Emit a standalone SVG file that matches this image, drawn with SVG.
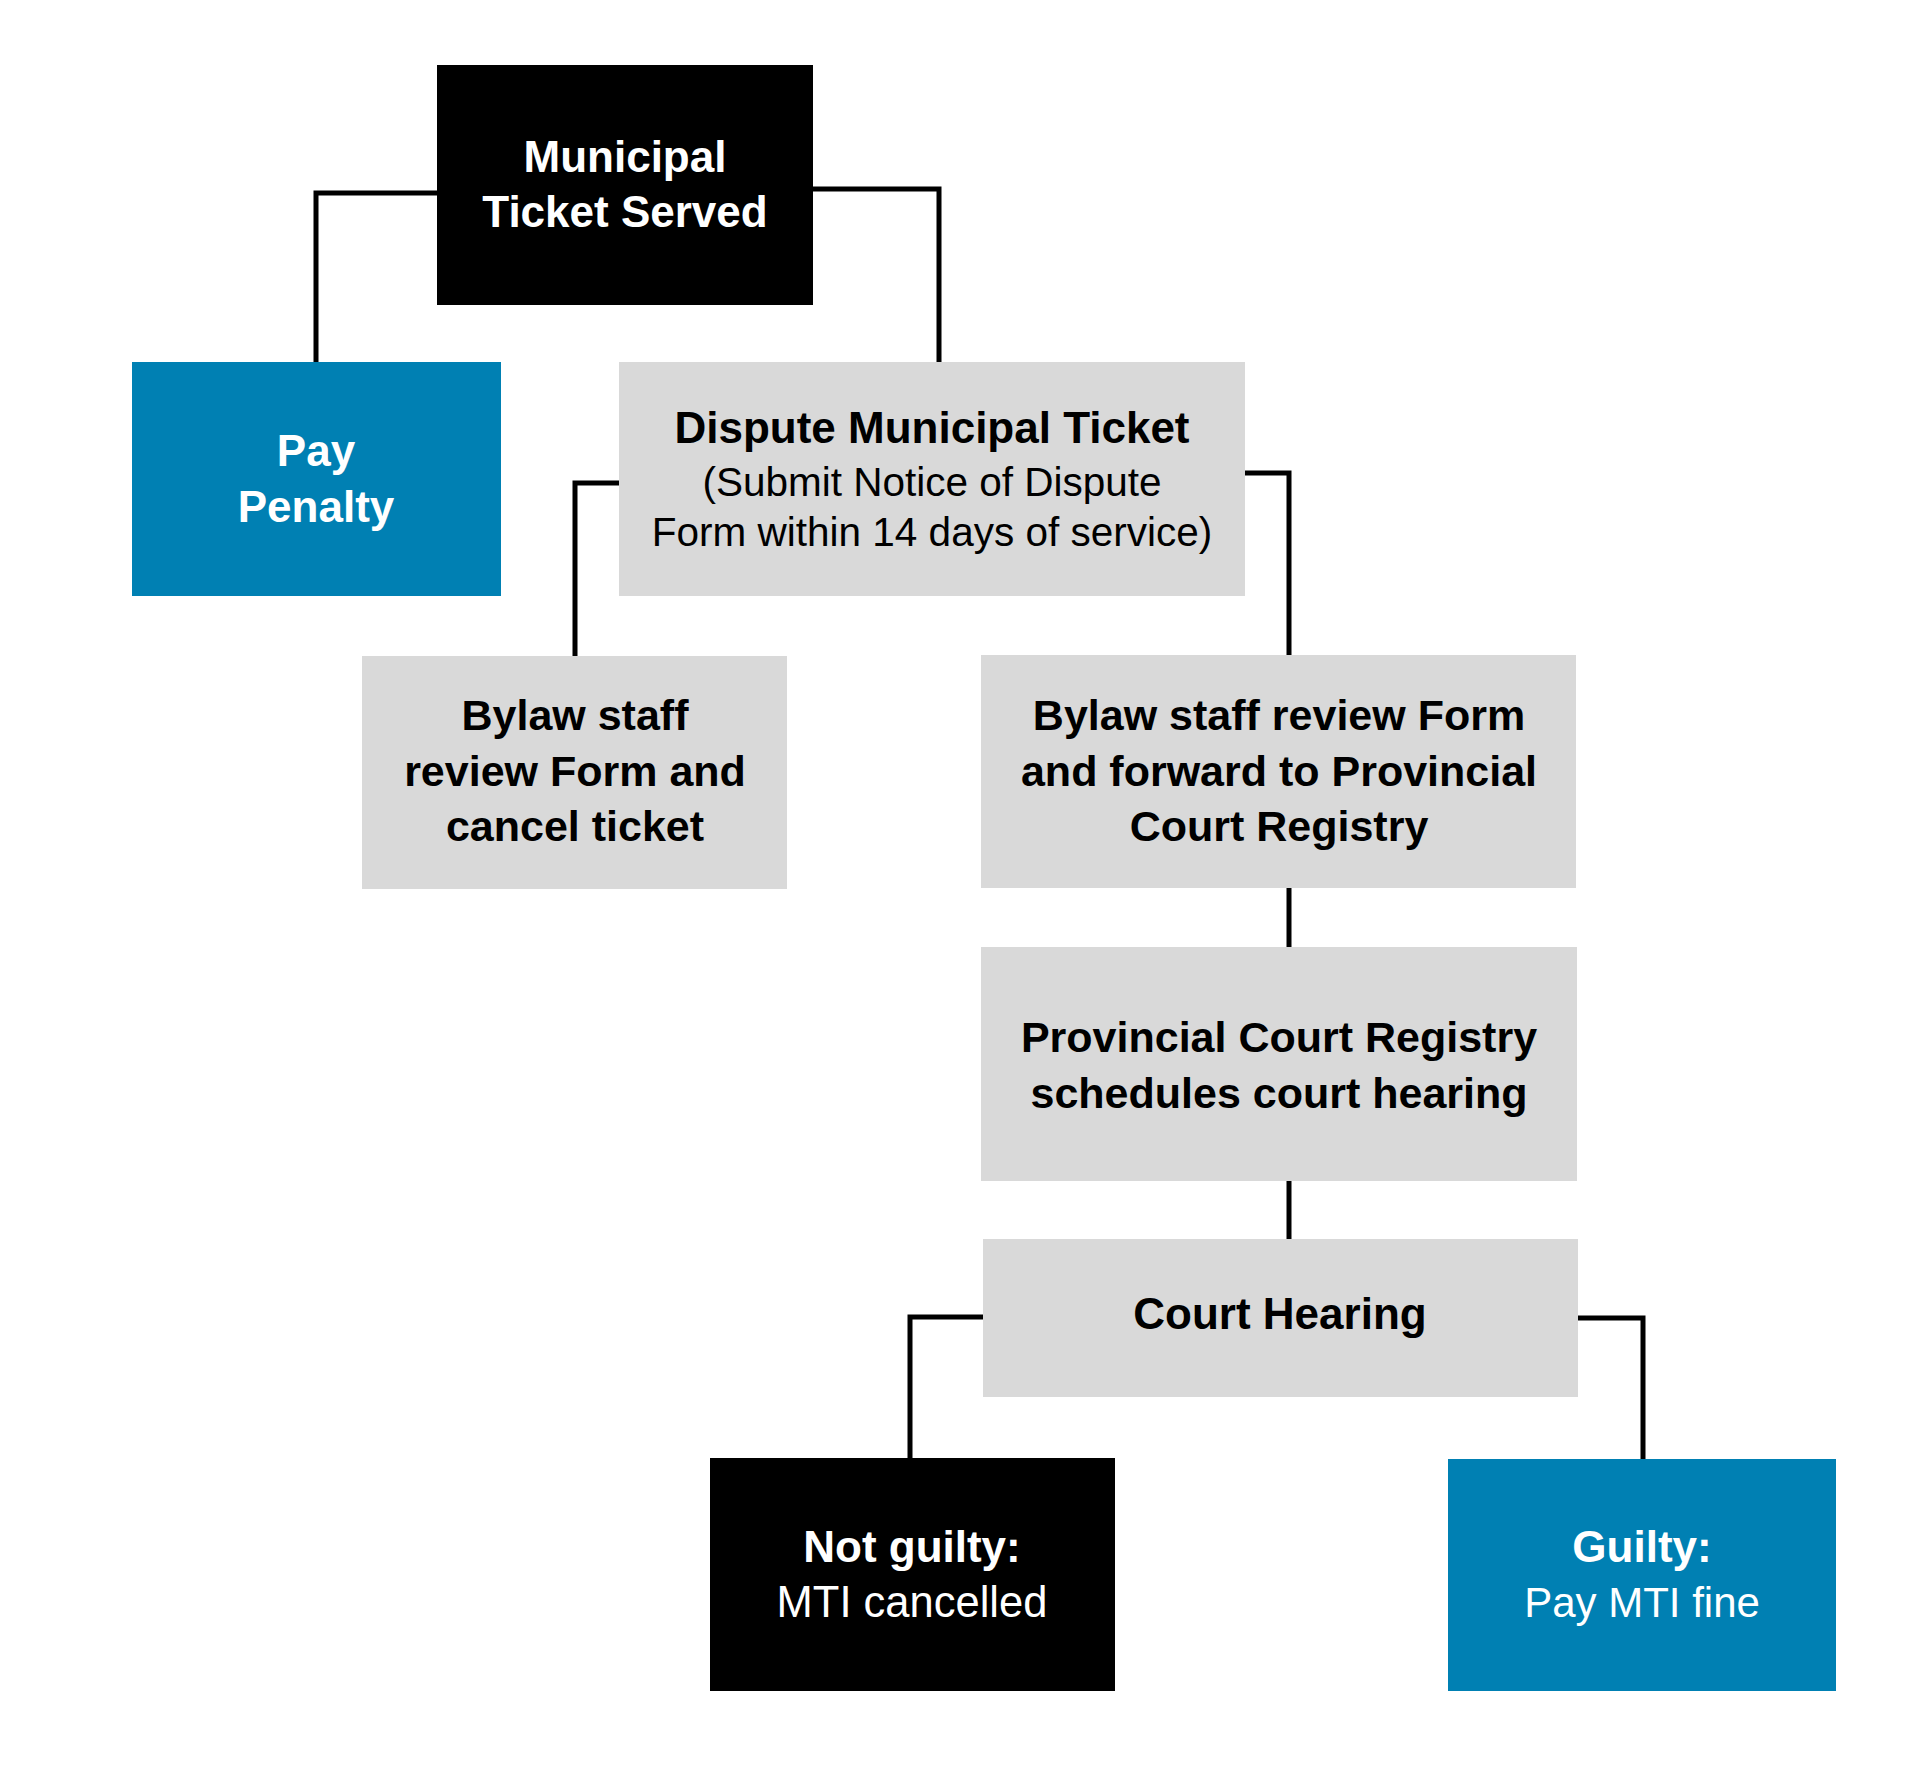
<svg xmlns="http://www.w3.org/2000/svg" width="1920" height="1783" viewBox="0 0 1920 1783">
<style>
.conn{fill:none;stroke:#000;stroke-width:5;stroke-linejoin:miter}
.black{fill:#000}
.blue{fill:#0080B3}
.grey{fill:#D9D9D9}
text{font-family:"Liberation Sans",Arial,sans-serif;text-anchor:middle}
.b{font-weight:bold;font-size:44px}
.b3{font-weight:bold;font-size:43px}
.n{font-size:40.5px}
.n2{font-size:43.5px}
.w{fill:#fff}
.k{fill:#000}
</style>
<rect width="1920" height="1783" fill="#fff"/>
<g id="connectors">
<polyline class="conn" points="437,193 316,193 316,362"/>
<polyline class="conn" points="813,189 939,189 939,362"/>
<polyline class="conn" points="619,483 575,483 575,656"/>
<polyline class="conn" points="1245,473 1289,473 1289,655"/>
<line class="conn" x1="1289" y1="888" x2="1289" y2="947"/>
<line class="conn" x1="1289" y1="1181" x2="1289" y2="1239"/>
<polyline class="conn" points="983,1317 910,1317 910,1458"/>
<polyline class="conn" points="1578,1318 1643,1318 1643,1459"/>
</g>
<g id="municipal-ticket-served">
<rect class="black" x="437" y="65" width="376" height="240"/>
<text class="b w" x="625" y="172">Municipal</text>
<text class="b w" x="625" y="227">Ticket Served</text>
</g>
<g id="pay-penalty">
<rect class="blue" x="132" y="362" width="369" height="234"/>
<text class="b w" x="316" y="466">Pay</text>
<text class="b w" x="316" y="522">Penalty</text>
</g>
<g id="dispute">
<rect class="grey" x="619" y="362" width="626" height="234"/>
<text class="b k" x="932" y="443">Dispute Municipal Ticket</text>
<text class="n k" x="932" y="496">(Submit Notice of Dispute</text>
<text class="n k" x="932" y="546" font-size="40">Form within 14 days of service)</text>
</g>
<g id="bylaw-cancel">
<rect class="grey" x="362" y="656" width="425" height="233"/>
<text class="b3 k" x="575" y="730">Bylaw staff</text>
<text class="b3 k" x="575" y="786">review Form and</text>
<text class="b3 k" x="575" y="841">cancel ticket</text>
</g>
<g id="bylaw-forward">
<rect class="grey" x="981" y="655" width="595" height="233"/>
<text class="b3 k" x="1279" y="730">Bylaw staff review Form</text>
<text class="b3 k" x="1279" y="786">and forward to Provincial</text>
<text class="b3 k" x="1279" y="841">Court Registry</text>
</g>
<g id="registry-schedules">
<rect class="grey" x="981" y="947" width="596" height="234"/>
<text class="b3 k" x="1279" y="1052">Provincial Court Registry</text>
<text class="b3 k" x="1279" y="1108">schedules court hearing</text>
</g>
<g id="court-hearing">
<rect class="grey" x="983" y="1239" width="595" height="158"/>
<text class="b k" x="1280" y="1329">Court Hearing</text>
</g>
<g id="not-guilty">
<rect class="black" x="710" y="1458" width="405" height="233"/>
<text class="b w" x="912" y="1562">Not guilty:</text>
<text class="n2 w" x="912" y="1617">MTI cancelled</text>
</g>
<g id="guilty">
<rect class="blue" x="1448" y="1459" width="388" height="232"/>
<text class="b w" x="1642" y="1562">Guilty:</text>
<text class="w" x="1642" y="1617" font-size="42">Pay MTI fine</text>
</g>
</svg>
